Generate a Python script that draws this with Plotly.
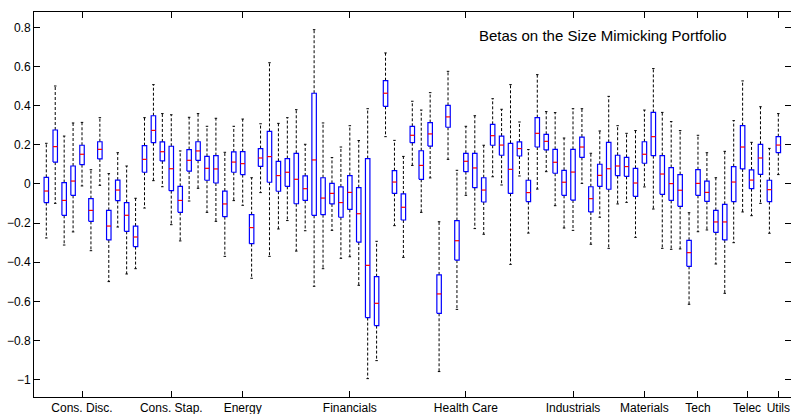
import plotly.graph_objects as go

# ---- data ----
upper_whisker = [0.208, 0.501, 0.245, 0.312, 0.315, 0.073, 0.339, 0.053, 0.160, 0.092,
                 -0.073, 0.339, 0.508, 0.360, 0.354, 0.169, 0.341, 0.360, 0.295, 0.336,
                 0.162, 0.295, 0.332, 0.032, 0.308, 0.620, 0.310, 0.339, 0.380, 0.203,
                 0.789, 0.312, 0.135, 0.189, 0.298, 0.222, 0.385, -0.293, 0.670, 0.223,
                 0.141, 0.423, 0.378, 0.467, -0.193, 0.576, 0.070, 0.295, 0.349, 0.198,
                 0.436, 0.382, 0.508, 0.317, 0.176, 0.559, 0.370, 0.365, 0.235, 0.385,
                 0.385, 0.157, 0.271, 0.448, 0.298, 0.259, 0.273, 0.378, 0.590, 0.366,
                 0.319, 0.273, -0.147, 0.249, 0.160, 0.032, 0.167, 0.324, 0.527, 0.213,
                 0.395, 0.182, 0.360]
q3 = [0.034, 0.276, 0.007, 0.092, 0.198, -0.075, 0.216, -0.135, 0.020, -0.095,
      -0.215, 0.196, 0.349, 0.215, 0.193, -0.012, 0.176, 0.216, 0.141, 0.145,
      -0.036, 0.164, 0.165, -0.157, 0.181, 0.269, 0.116, 0.130, 0.157, 0.041,
      0.464, 0.032, 0.003, -0.015, 0.043, -0.019, 0.130, -0.474, 0.528, 0.068,
      -0.051, 0.295, 0.170, 0.314, -0.465, 0.402, -0.187, 0.157, 0.157, 0.032,
      0.305, 0.245, 0.208, 0.215, 0.019, 0.339, 0.254, 0.177, 0.070, 0.177,
      0.240, -0.014, 0.101, 0.213, 0.147, 0.136, 0.080, 0.216, 0.366, 0.145,
      0.084, 0.048, -0.288, 0.073, 0.015, -0.135, -0.104, 0.089, 0.298, 0.072,
      0.203, 0.019, 0.242]
median = [-0.036, 0.191, -0.084, 0.015, 0.152, -0.135, 0.177, -0.215, -0.031, -0.160,
          -0.271, 0.126, 0.274, 0.165, 0.078, -0.084, 0.121, 0.169, 0.080, 0.077,
          -0.102, 0.112, 0.104, -0.223, 0.133, 0.140, 0.043, 0.060, 0.024, -0.024,
          0.123, -0.072, -0.048, -0.095, -0.043, -0.152, -0.416, -0.610, 0.464, 0.010,
          -0.119, 0.249, 0.095, 0.256, -0.562, 0.343, -0.290, 0.116, 0.082, -0.031,
          0.247, 0.199, 0.075, 0.181, -0.044, 0.259, 0.218, 0.111, 0.009, 0.061,
          0.189, -0.075, 0.044, 0.078, 0.092, 0.089, 0.005, 0.152, 0.242, 0.051,
          0.002, -0.032, -0.351, 0.003, -0.043, -0.194, -0.194, 0.010, 0.189, 0.020,
          0.133, -0.029, 0.199]
q1 = [-0.095, 0.112, -0.160, -0.058, 0.099, -0.191, 0.128, -0.286, -0.085, -0.242,
      -0.320, 0.060, 0.211, 0.118, -0.034, -0.145, 0.066, 0.121, 0.019, 0.005,
      -0.167, 0.060, 0.048, -0.305, 0.090, 0.009, -0.037, -0.012, -0.101, -0.084,
      -0.160, -0.157, -0.102, -0.170, -0.130, -0.297, -0.683, -0.724, 0.397, -0.048,
      -0.184, 0.211, 0.024, 0.194, -0.661, 0.290, -0.389, 0.063, -0.019, -0.092,
      0.198, 0.147, -0.048, 0.143, -0.090, 0.189, 0.174, 0.055, -0.058, -0.082,
      0.136, -0.143, -0.012, -0.027, 0.043, 0.039, -0.063, 0.106, 0.145, -0.053,
      -0.084, -0.114, -0.421, -0.058, -0.089, -0.247, -0.286, -0.090, 0.077, -0.024,
      0.049, -0.090, 0.160]
lower_whisker = [-0.276, -0.099, -0.312, -0.245, -0.010, -0.341, -0.007, -0.499, -0.220, -0.460,
                 -0.433, -0.123, 0.017, -0.014, -0.208, -0.291, -0.087, -0.022, -0.145, -0.191,
                 -0.370, -0.085, -0.109, -0.482, -0.044, -0.370, -0.230, -0.187, -0.343, -0.239,
                 -0.523, -0.433, -0.237, -0.380, -0.372, -0.518, -0.995, -0.903, 0.242, -0.213,
                 -0.375, 0.095, -0.145, 0.031, -0.959, 0.126, -0.641, -0.058, -0.228, -0.257,
                 0.037, -0.005, -0.411, 0.041, -0.251, -0.026, 0.063, -0.111, -0.225, -0.237,
                 0.003, -0.308, -0.170, -0.329, -0.102, -0.094, -0.273, -0.015, -0.128, -0.329,
                 -0.334, -0.332, -0.615, -0.244, -0.235, -0.409, -0.559, -0.300, -0.143, -0.162,
                 -0.099, -0.252, 0.048]

sector_labels = ["Cons. Disc.", "Cons. Stap.", "Energy", "Financials", "Health Care",
                 "Industrials", "Materials", "Tech", "Telec", "Utils"]
sector_tick_pos = [5, 15, 23, 35, 48, 60, 68, 74, 79.5, 83]

y_tick_vals = [-1, -0.8, -0.6, -0.4, -0.2, 0, 0.2, 0.4, 0.6, 0.8]
y_tick_text = ["\u22121", "\u22120.8", "\u22120.6", "\u22120.4", "\u22120.2",
               "0", "0.2", "0.4", "0.6", "0.8"]

title_text = "Betas on the Size Mimicking Portfolio"

# ---- build geometry from data ----
positions = list(range(1, len(median) + 1))
hw = 0.25   # box half width
cw = 0.14   # cap half width

bx, by, mx, my, wx, wy, cx, cy = [], [], [], [], [], [], [], []
for p, uw, a, m, b, lw in zip(positions, upper_whisker, q3, median, q1, lower_whisker):
    bx += [p - hw, p + hw, p + hw, p - hw, p - hw, None]
    by += [b, b, a, a, b, None]
    mx += [p - hw, p + hw, None]
    my += [m, m, None]
    wx += [p, p, None, p, p, None]
    wy += [a, uw, None, b, lw, None]
    cx += [p - cw, p + cw, None, p - cw, p + cw, None]
    cy += [uw, uw, None, lw, lw, None]

fig = go.Figure()
fig.add_trace(go.Scatter(x=wx, y=wy, mode="lines", hoverinfo="skip", showlegend=False,
                         line=dict(color="black", width=1, dash="3px,2px")))
fig.add_trace(go.Scatter(x=cx, y=cy, mode="lines", hoverinfo="skip", showlegend=False,
                         line=dict(color="black", width=1)))
fig.add_trace(go.Scatter(x=bx, y=by, mode="lines", hoverinfo="skip", showlegend=False,
                         line=dict(color="#0000FF", width=1.2)))
fig.add_trace(go.Scatter(x=mx, y=my, mode="lines", hoverinfo="skip", showlegend=False,
                         line=dict(color="#FF0000", width=1.2)))

font_family = "Liberation Sans, Arial, Helvetica, sans-serif"

fig.update_layout(
    width=791, height=414,
    margin=dict(l=34, r=0, t=12, b=17),
    paper_bgcolor="white", plot_bgcolor="white",
    font=dict(family=font_family, size=12, color="black"),
    showlegend=False,
    xaxis=dict(range=[-0.378, 84.42], tickmode="array", tickvals=sector_tick_pos,
               ticktext=sector_labels, ticks="inside", ticklen=6, tickwidth=1,
               tickcolor="black", showline=True, linecolor="black", linewidth=1,
               mirror="ticks", showgrid=False, zeroline=False, automargin=False,
               tickfont=dict(family=font_family, size=12, color="black")),
    yaxis=dict(range=[-1.089, 0.8793], tickmode="array", tickvals=y_tick_vals,
               ticktext=y_tick_text, ticks="inside", ticklen=6, tickwidth=1,
               tickcolor="black", showline=True, linecolor="black", linewidth=1,
               mirror="ticks", showgrid=False, zeroline=False, automargin=False,
               tickfont=dict(family=font_family, size=12, color="black")),
    annotations=[dict(text=title_text, xref="paper", yref="paper", x=0.585, y=0.94,
                      xanchor="left", yanchor="middle", showarrow=False,
                      font=dict(family=font_family, size=15, color="black"))],
)

fig.write_html(
    "out.html",
    config={"displayModeBar": False},
    post_script="document.body.style.margin='0';document.body.style.padding='0';"
                "document.body.style.overflow='hidden';",
)
